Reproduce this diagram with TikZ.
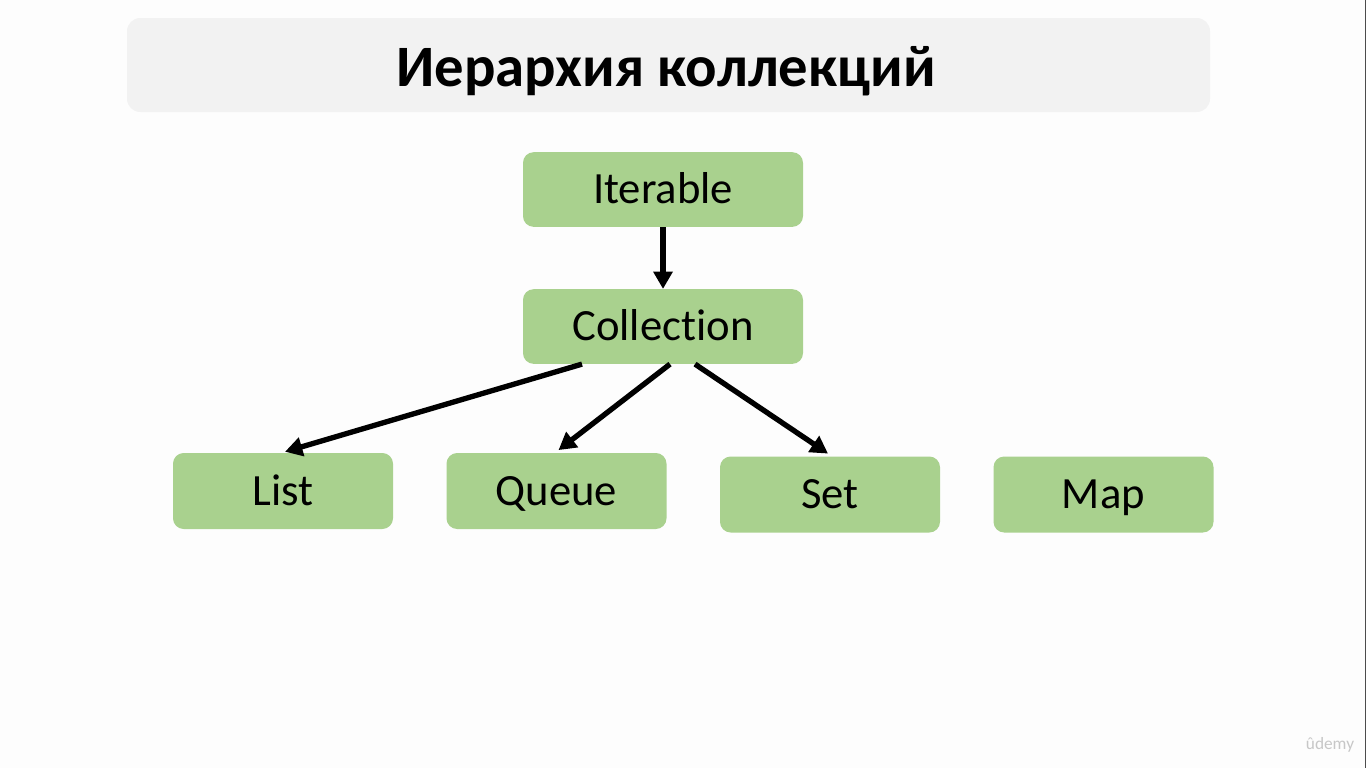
\documentclass[tikz,border=0pt]{standalone}
\usepackage{fontspec}
\setmainfont{Carlito}[Ligatures=NoCommon]
\usetikzlibrary{positioning,arrows.meta}
\definecolor{boxgreen}{HTML}{A9D18E}
\definecolor{bannergray}{HTML}{F2F2F2}
\definecolor{pagewhite}{HTML}{FDFDFD}
\tikzset{
  basic/.style  = {draw=none, rounded corners=8pt, fill=boxgreen, inner sep=0pt,
                   font=\fontsize{33.5}{40}\selectfont, text height=21.5pt, text depth=0pt},
  upper/.style  = {basic, minimum width=210pt, minimum height=56pt},
  lower/.style  = {basic, minimum width=165pt, minimum height=57pt},
  banner/.style = {rounded corners=10pt, fill=bannergray, draw=none},
  edge/.style   = {-{Triangle[length=13pt,width=14pt]}, line width=4pt}
}

\begin{document}
\begin{tikzpicture}[x=0.75pt, y=-0.75pt]
  \fill[pagewhite] (0,0) rectangle (1366,768);
  \useasboundingbox (0,0) rectangle (1366,768);
  \draw[line width=0.8pt, black!70] (1365.5,0) -- (1365.5,768);
  % title
  \fill[banner] (127,18) rectangle (1210,112);
  \node[font=\fontsize{44}{52}\selectfont\bfseries, text height=28.5pt, text depth=0pt,
        inner sep=0pt] (title) at (666,67) {Иерархия коллекций};
  % hierarchy
  \node[upper] (iter) at (663,189.5) {Iterable};
  \node[upper] (coll) at (663,326.5) {Collection};
  \node[lower] (list)  at (283,491)    {List};
  \node[lower] (queue) at (556.5,491)  {Queue};
  \node[lower] (set)   at (830,494.5)  {Set};
  \node[lower] (map)   at (1103.5,494.5) {Map};
  \draw[edge] (iter) -- (coll);
  \draw[edge] ([xshift=-60.75pt]coll.south) -- ([xshift=1.5pt, yshift=0.75pt]list.north);
  \draw[edge] ([xshift=5.25pt]coll.south) -- ([xshift=1.5pt, yshift=2pt]queue.north);
  \draw[edge] ([xshift=24pt]coll.south) -- ([xshift=-1.5pt, yshift=2pt]set.north);
  % watermark
  \node[font=\fontsize{13}{15}\selectfont, text=black!22] (mark) at (1330,745) {ûdemy};
\end{tikzpicture}
\end{document}
